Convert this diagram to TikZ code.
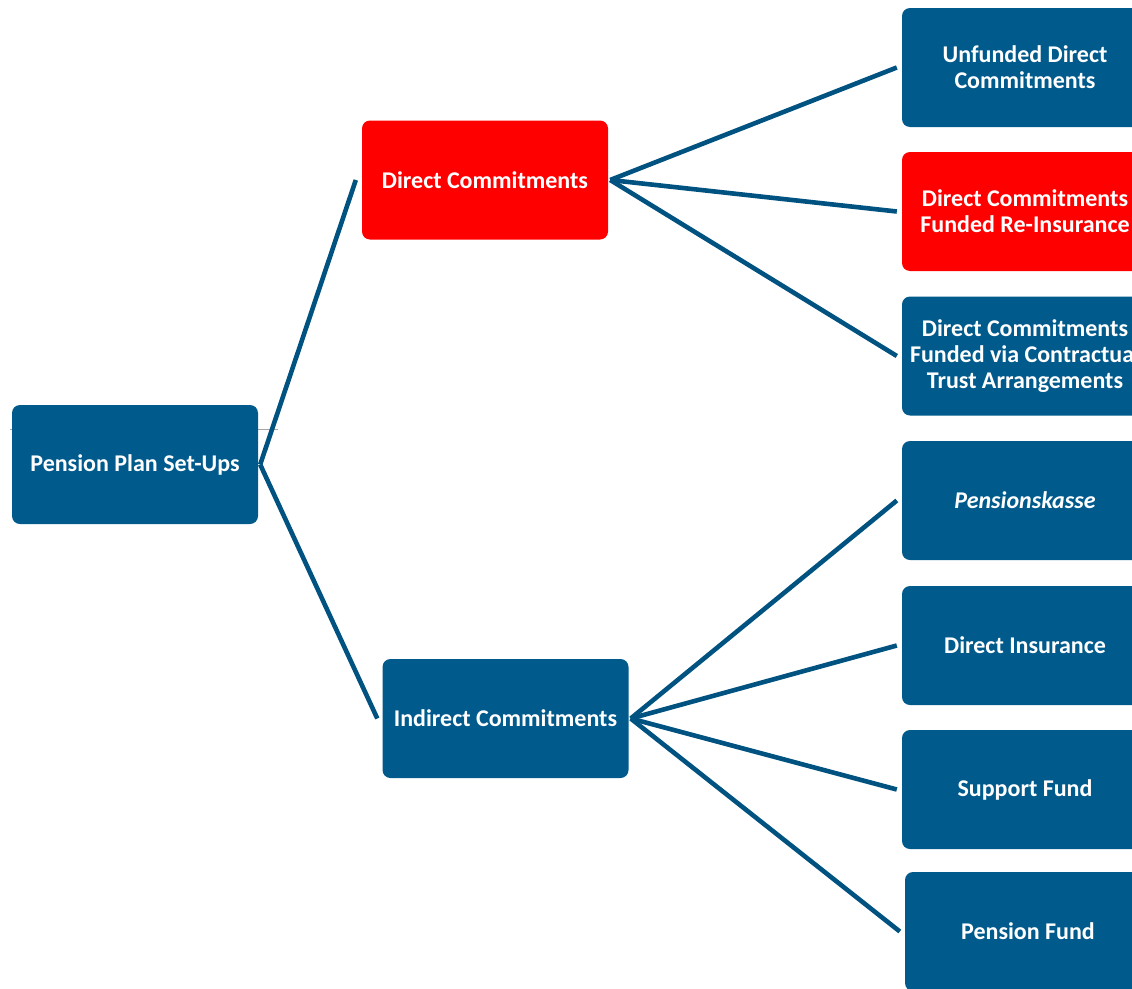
\documentclass[tikz,border=0pt]{standalone}
\usepackage{fontspec}
\setmainfont{Carlito}
\usetikzlibrary{positioning}
\definecolor{pblue}{RGB}{0,90,140}
\definecolor{lineblue}{RGB}{0,82,128}
\definecolor{pred}{RGB}{255,0,0}
\tikzset{
    block/.style={
        rectangle, rounded corners=8pt,
        minimum width=246pt, minimum height=119pt,
        inner sep=0pt, align=center,
        font=\fontsize{24}{26}\selectfont\bfseries,
        text=white, fill=pblue
    },
    hot/.style={
        block, fill=pred
    },
    connector/.style={
        line width=4.6pt, draw=lineblue
    }
}
\begin{document}
\begin{tikzpicture}[x=1pt,y=-1pt]
    \useasboundingbox (0,0) rectangle (1132,988);
    \clip (0,0) rectangle (1132,988);
    % faint guide line behind the root
    \coordinate (gl) at (10,429);
    \coordinate (gr) at (278,429);
    \draw[gray!70, line width=0.8pt] (gl) -- (gr);
    % levels
    \node[block] (root) at (135,464.5) {Pension Plan Set-Ups};
    \node[hot] (direct) at (485,180) {Direct Commitments};
    \node[block] (indirect) at (505.5,718.5) {Indirect Commitments};
    % direct commitments
    \node[block] (unfunded) at (1025,67.5) {Unfunded Direct\\Commitments};
    \node[hot] (reins) at (1025,211.5) {Direct Commitments\\Funded Re-Insurance};
    \node[block] (cta) at (1025,356) {Direct Commitments\\Funded via Contractual\\Trust Arrangements};
    % indirect commitments
    \node[block] (kasse) at (1025,500.5) {\textit{Pensionskasse}};
    \node[block] (insur) at (1025,645.5) {Direct Insurance};
    \node[block] (support) at (1025,789.5) {Support Fund};
    \node[block] (fund) at (1028,931.5) {Pension Fund};
    % connectors
    \draw[connector] ([xshift=2pt]root.east) -- ([xshift=-6pt]direct.west);
    \draw[connector] ([xshift=2pt]root.east) -- ([xshift=-5pt]indirect.west);
    \foreach \t in {unfunded,reins,cta}
        \draw[connector] ([xshift=2pt]direct.east) -- ([xshift=-5pt]\t.west);
    \foreach \t in {kasse,insur,support,fund}
        \draw[connector] ([xshift=2pt]indirect.east) -- ([xshift=-5pt]\t.west);
\end{tikzpicture}
\end{document}
